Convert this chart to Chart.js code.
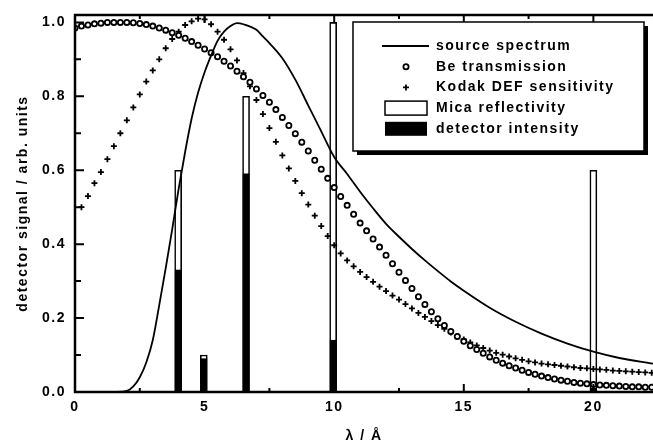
<!DOCTYPE html>
<html>
<head>
<meta charset="utf-8">
<script src="https://cdn.jsdelivr.net/npm/chart.js@4.4.0/dist/chart.umd.min.js"></script>
<style>
  body { margin: 0; background: #fff; }
  #wrap { width: 653px; height: 443px; }
</style>
</head>
<body>
<div id="wrap"><canvas id="spectrumChart"></canvas></div>
<script>
// Mica reflection orders and what reaches the detector
const micaX = [3.98, 4.97, 6.6, 9.96, 20.0];
const micaY = [0.6, 0.1, 0.8, 1.0, 0.6];
const detectorY = [0.33, 0.09, 0.59, 0.14, 0.01];

// source spectrum (solid line)
const sourceX = [1.5, 2.0, 2.25, 2.5, 2.75, 3.0, 3.25, 3.5, 3.75, 4.0, 4.25, 4.5, 4.75, 5.0, 5.25, 5.5, 5.75, 6.0, 6.25, 6.5,
  7.0, 7.25, 7.5, 8.0, 8.5, 9.0, 9.5, 10.0, 10.5, 11.0, 11.5, 12.0, 12.5, 13.0, 13.5, 14.0, 14.5, 15.0,
  16.0, 17.0, 18.0, 19.0, 20.0, 21.0, 22.3];
const sourceY = [0, 0.003, 0.015, 0.04, 0.08, 0.14, 0.235, 0.335, 0.44, 0.55, 0.65, 0.74, 0.81, 0.865, 0.91, 0.95, 0.975, 0.99, 0.998, 0.995,
  0.98, 0.962, 0.944, 0.903, 0.845, 0.775, 0.705, 0.636, 0.59, 0.542, 0.497, 0.455, 0.42, 0.387, 0.356, 0.327, 0.299, 0.274,
  0.228, 0.19, 0.158, 0.131, 0.109, 0.092, 0.077];

// Be transmission (circles)
const beX = [0, 0.25, 0.5, 0.75, 1, 1.25, 1.5, 1.75, 2, 2.25, 2.5, 2.75, 3, 3.25, 3.5, 3.75, 4, 4.25, 4.5, 4.75,
  5, 5.25, 5.5, 5.75, 6, 6.25, 6.5, 6.75, 7, 7.25, 7.5, 7.75, 8, 8.25, 8.5, 8.75, 9, 9.25, 9.5, 9.75,
  10, 10.25, 10.5, 10.75, 11, 11.25, 11.5, 11.75, 12, 12.25, 12.5, 12.75, 13, 13.25, 13.5, 13.75, 14, 14.25, 14.5, 14.75,
  15, 15.25, 15.5, 15.75, 16, 16.25, 16.5, 16.75, 17, 17.25, 17.5, 17.75, 18, 18.25, 18.5, 18.75, 19, 19.25, 19.5, 19.75,
  20, 20.25, 20.5, 20.75, 21, 21.25, 21.5, 21.75, 22, 22.25];
const beY = [0.985, 0.99, 0.993, 0.996, 0.998, 1.0, 1.0, 1.0, 1.0, 0.999, 0.997, 0.994, 0.99, 0.985, 0.979, 0.972, 0.965, 0.957, 0.948, 0.938,
  0.928, 0.918, 0.907, 0.895, 0.882, 0.868, 0.853, 0.838, 0.82, 0.802, 0.784, 0.764, 0.743, 0.721, 0.699, 0.676, 0.652, 0.627, 0.603, 0.578,
  0.553, 0.529, 0.505, 0.481, 0.457, 0.436, 0.414, 0.392, 0.37, 0.347, 0.324, 0.302, 0.28, 0.258, 0.237, 0.217, 0.198, 0.18, 0.164, 0.15,
  0.137, 0.125, 0.115, 0.105, 0.095, 0.086, 0.078, 0.071, 0.065, 0.059, 0.053, 0.048, 0.043, 0.039, 0.035, 0.032, 0.029, 0.026, 0.024, 0.022,
  0.02, 0.019, 0.018, 0.017, 0.016, 0.015, 0.014, 0.014, 0.013, 0.013];

// Kodak DEF sensitivity (crosses)
const kodakX = [0.25, 0.5, 0.75, 1, 1.25, 1.5, 1.75, 2, 2.25, 2.5, 2.75, 3, 3.25, 3.5, 3.75, 4, 4.25, 4.5, 4.75,
  5, 5.25, 5.5, 5.75, 6, 6.25, 6.5, 6.75, 7, 7.25, 7.5, 7.75, 8, 8.25, 8.5, 8.75, 9, 9.25, 9.5, 9.75,
  10, 10.25, 10.5, 10.75, 11, 11.25, 11.5, 11.75, 12, 12.25, 12.5, 12.75, 13, 13.25, 13.5, 13.75, 14, 14.25, 14.5, 14.75,
  15, 15.25, 15.5, 15.75, 16, 16.25, 16.5, 16.75, 17, 17.25, 17.5, 17.75, 18, 18.25, 18.5, 18.75, 19, 19.25, 19.5, 19.75,
  20, 20.25, 20.5, 20.75, 21, 21.25, 21.5, 21.75, 22, 22.25];
const kodakY = [0.50, 0.53, 0.565, 0.595, 0.63, 0.665, 0.70, 0.735, 0.77, 0.805, 0.84, 0.87, 0.90, 0.93, 0.955, 0.975, 0.993, 1.003, 1.01,
  1.008, 0.995, 0.975, 0.953, 0.927, 0.897, 0.863, 0.827, 0.79, 0.752, 0.714, 0.677, 0.64, 0.605, 0.571, 0.538, 0.507, 0.477, 0.449, 0.422,
  0.397, 0.375, 0.356, 0.34, 0.325, 0.311, 0.298, 0.285, 0.273, 0.261, 0.25, 0.238, 0.226, 0.214, 0.203, 0.192, 0.181, 0.171, 0.161, 0.151,
  0.142, 0.134, 0.126, 0.119, 0.112, 0.106, 0.101, 0.096, 0.091, 0.087, 0.083, 0.08, 0.077, 0.075, 0.073, 0.071, 0.069, 0.067, 0.065, 0.064,
  0.062, 0.061, 0.06, 0.058, 0.057, 0.056, 0.055, 0.054, 0.053, 0.052];

const xMin = 0, xMax = 22.3, xStep = 2.5;
const yMin = 0, yMax = 1.02, yStep = 0.1;

function pairs(xs, ys) {
    return xs.map((x, i) => ({ x: x, y: ys[i] }));
}

const FONT = '"Liberation Sans", Arial, sans-serif';
Chart.defaults.font.family = FONT;
Chart.defaults.font.weight = 'bold';
Chart.defaults.font.size = 14;
Chart.defaults.color = '#000';

// inward ticks on bottom/top/left and the heavy frame
const framePlugin = {
    id: 'frameTicks',
    beforeDraw(chart) {
        chart.ctx.letterSpacing = '1.5px';
    },
    afterDatasetsDraw(chart) {
        const ctx = chart.ctx;
        const a = chart.chartArea;
        const xs = chart.scales.x, ys = chart.scales.y;
        ctx.save();
        ctx.strokeStyle = '#000';
        ctx.lineWidth = 2;
        ctx.beginPath();
        xs.ticks.forEach(t => {
            const px = xs.getPixelForValue(t.value);
            const len = (Math.round(t.value * 2) % 10 === 0) ? 8 : 4;
            ctx.moveTo(px, a.bottom); ctx.lineTo(px, a.bottom - len);
            ctx.moveTo(px, a.top); ctx.lineTo(px, a.top + len);
        });
        ys.ticks.forEach(t => {
            const py = ys.getPixelForValue(t.value);
            const len = (Math.round(t.value * 10) % 2 === 0) ? 9 : 6;
            ctx.moveTo(a.left, py); ctx.lineTo(a.left + len, py);
        });
        ctx.stroke();
        ctx.lineWidth = 2.5;
        ctx.beginPath();
        ctx.moveTo(a.right + 5, a.top);
        ctx.lineTo(a.left, a.top);
        ctx.lineTo(a.left, a.bottom);
        ctx.lineTo(a.right + 5, a.bottom);
        ctx.stroke();
        ctx.restore();
    },
    afterDraw(chart) {
        chart.ctx.letterSpacing = '0px';
    }
};

// boxed legend with drop shadow, top right
const boxLegend = {
    id: 'boxLegend',
    afterDatasetsDraw(chart, args, opts) {
        const ctx = chart.ctx;
        const b = opts.box;
        ctx.save();
        ctx.fillStyle = '#000';
        ctx.fillRect(b.left + 4, b.top + 4, b.width, b.height);
        ctx.fillStyle = '#fff';
        ctx.fillRect(b.left, b.top, b.width, b.height);
        ctx.strokeStyle = '#000';
        ctx.lineWidth = 1.5;
        ctx.strokeRect(b.left, b.top, b.width, b.height);

        ctx.font = 'bold 14px ' + FONT;
        ctx.letterSpacing = '1.5px';
        ctx.textBaseline = 'middle';
        ctx.textAlign = 'left';
        chart.data.datasets.forEach((ds, i) => {
            const y = opts.rowTop + i * opts.rowGap;
            const sx = opts.sampleLeft, sw = opts.sampleWidth;
            const cx = sx + sw / 2;
            ctx.fillStyle = '#000';
            ctx.strokeStyle = '#000';
            if (ds.type === 'bar') {
                ctx.fillStyle = ds.backgroundColor;
                ctx.fillRect(sx, y - 7, sw, 14);
                if (ds.borderWidth) {
                    ctx.lineWidth = 1.5;
                    ctx.strokeRect(sx, y - 7, sw, 14);
                }
            } else if (ds.showLine === false) {
                const r = ds.pointRadius;
                ctx.lineWidth = ds.pointBorderWidth;
                ctx.fillStyle = ds.pointBackgroundColor;
                ctx.strokeStyle = ds.pointBorderColor;
                ctx.beginPath();
                if (ds.pointStyle === 'circle') {
                    ctx.arc(cx, y, r, 0, Math.PI * 2);
                    ctx.fill();
                } else {
                    ctx.moveTo(cx - r, y); ctx.lineTo(cx + r, y);
                    ctx.moveTo(cx, y - r); ctx.lineTo(cx, y + r);
                }
                ctx.stroke();
            } else {
                ctx.lineWidth = ds.borderWidth;
                ctx.beginPath();
                ctx.moveTo(sx - 3, y); ctx.lineTo(sx + sw + 2, y);
                ctx.stroke();
            }
            ctx.fillStyle = '#000';
            ctx.fillText(ds.label, opts.textLeft, y);
        });
        ctx.restore();
    }
};

const ctx = document.getElementById('spectrumChart').getContext('2d');

new Chart(ctx, {
    type: 'bar',
    data: {
        datasets: [{
            type: 'line',
            label: 'source spectrum',
            data: pairs(sourceX, sourceY),
            borderColor: '#000',
            borderWidth: 1.8,
            pointRadius: 0,
            fill: false,
            cubicInterpolationMode: 'monotone',
            order: 1
        }, {
            type: 'line',
            label: 'Be transmission',
            data: pairs(beX, beY),
            showLine: false,
            pointStyle: 'circle',
            pointRadius: 2.6,
            pointBorderWidth: 1.8,
            pointBackgroundColor: '#fff',
            pointBorderColor: '#000',
            order: 1
        }, {
            type: 'line',
            label: 'Kodak DEF sensitivity',
            data: pairs(kodakX, kodakY),
            showLine: false,
            pointStyle: 'cross',
            pointRadius: 3,
            pointBorderWidth: 1.8,
            pointBackgroundColor: '#000',
            pointBorderColor: '#000',
            order: 1
        }, {
            type: 'bar',
            label: 'Mica reflectivity',
            data: pairs(micaX, micaY),
            backgroundColor: '#fff',
            borderColor: '#000',
            borderWidth: 1.6,
            barThickness: 7,
            grouped: false,
            order: 3
        }, {
            type: 'bar',
            label: 'detector intensity',
            data: pairs(micaX, detectorY),
            backgroundColor: '#000',
            borderWidth: 0,
            barThickness: 6,
            grouped: false,
            order: 2
        }]
    },
    options: {
        responsive: true,
        maintainAspectRatio: false,
        animation: false,
        events: [],
        layout: {
            autoPadding: false,
            padding: { top: 15, right: 0, left: 0, bottom: 0 }
        },
        plugins: {
            legend: { display: false },
            tooltip: { enabled: false },
            boxLegend: {
                box: { left: 353, top: 22, width: 291, height: 129 },
                rowTop: 46,
                rowGap: 20.7,
                sampleLeft: 385,
                sampleWidth: 42,
                textLeft: 436
            }
        },
        scales: {
            x: {
                type: 'linear',
                min: xMin,
                max: xMax,
                offset: false,
                grid: { display: false, drawTicks: false },
                border: { display: false },
                ticks: {
                    stepSize: xStep,
                    includeBounds: false,
                    autoSkip: false,
                    maxRotation: 0,
                    padding: 7,
                    callback: v => (Math.round(v * 2) % 10 === 0) ? String(v) : ''
                },
                title: {
                    display: true,
                    text: 'λ / Å',
                    font: { size: 14, weight: 'bold', lineHeight: 1 },
                    padding: { top: 0, bottom: 0 }
                },
                afterFit: s => {
                    s.height = 51;
                    s.paddingLeft = 0;
                    s.paddingRight = 0;
                }
            },
            y: {
                min: yMin,
                max: yMax,
                grid: { display: false, drawTicks: false },
                border: { display: false },
                ticks: {
                    stepSize: yStep,
                    includeBounds: false,
                    autoSkip: false,
                    padding: 9,
                    callback: v => (Math.round(v * 10) % 2 === 0) ? v.toFixed(1) : ''
                },
                title: {
                    display: true,
                    text: 'detector signal / arb. units',
                    font: { size: 14, weight: 'bold' },
                    padding: { top: 15, bottom: 0 }
                },
                afterFit: s => {
                    s.width = 75;
                    s.paddingTop = 0;
                    s.paddingBottom = 0;
                }
            }
        }
    },
    plugins: [framePlugin, boxLegend]
});
</script>
</body>
</html>
